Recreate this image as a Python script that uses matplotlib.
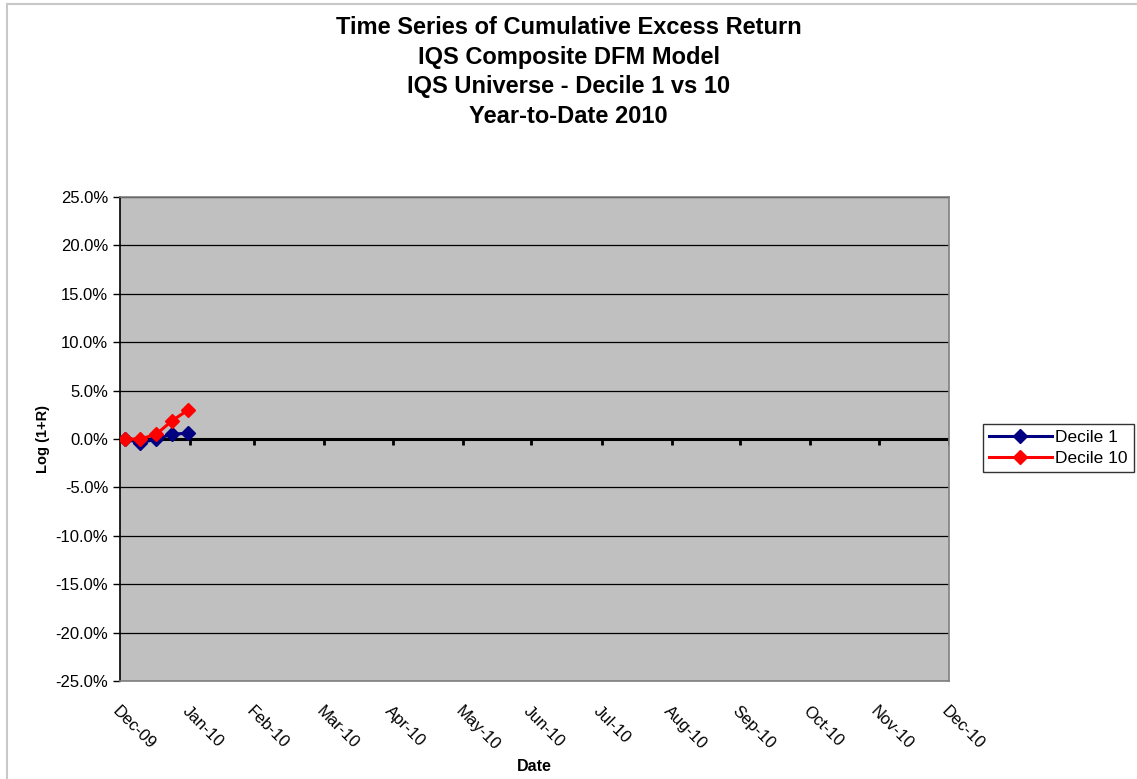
import numpy as np
import matplotlib
matplotlib.use("Agg")
import matplotlib.pyplot as plt
import matplotlib.dates as mdates
from matplotlib.ticker import FuncFormatter, MultipleLocator
from datetime import date
from matplotlib.patches import Rectangle

plt.rcParams['font.family'] = ['Liberation Sans', 'DejaVu Sans']

# weekly observations, cumulative log excess return (%)
dates = [date(2010, 1, 2), date(2010, 1, 9), date(2010, 1, 16),
         date(2010, 1, 23), date(2010, 1, 30)]
decile_1 = [0.0, -0.4, 0.0, 0.5, 0.6]
decile_10 = [0.0, 0.0, 0.5, 1.9, 3.0]

# month-end axis ticks
month_ends = [date(2009, 12, 31), date(2010, 1, 31), date(2010, 2, 28),
              date(2010, 3, 31), date(2010, 4, 30), date(2010, 5, 31),
              date(2010, 6, 30), date(2010, 7, 31), date(2010, 8, 31),
              date(2010, 9, 30), date(2010, 10, 31), date(2010, 11, 30),
              date(2010, 12, 31)]

fig = plt.figure(figsize=(11.37, 7.79), dpi=100)
ax = fig.add_axes([120 / 1137, 1 - 681 / 779, 829 / 1137, 484 / 779])
ax.set_facecolor('#C0C0C0')

x = mdates.date2num(dates)
xt = mdates.date2num(month_ends)

ax.plot(x, decile_1, color='#000080', lw=2.2, marker='D', ms=7.5, label='Decile 1', zorder=3)
ax.plot(x, decile_10, color='#FF0000', lw=2.2, marker='D', ms=7.5, label='Decile 10', zorder=4)

ax.set_xlim(xt[0], xt[-1])
ax.set_ylim(-25, 25)
ax.yaxis.set_major_locator(MultipleLocator(5))
ax.yaxis.set_major_formatter(FuncFormatter(lambda v, p: f'{v:.1f}%'))
ax.grid(axis='y', color='black', lw=0.9)
ax.axhline(0, color='black', lw=2.2, zorder=2)
# small tick marks along the zero line
for t in xt[1:]:
    ax.plot([t, t], [-0.6, 0], color='black', lw=2, zorder=2, solid_capstyle='butt')

ax.set_xticks(xt)
ax.set_xticklabels([d.strftime('%b-%y') for d in month_ends], rotation=-45,
                   ha='left', va='top', rotation_mode='anchor', fontsize=12)
ax.tick_params(axis='x', length=0, pad=16)
ax.tick_params(axis='y', length=5, width=1, labelsize=12, direction='out')
for s in ax.spines.values():
    s.set_color('#808080')
    s.set_linewidth(1.2)
ax.spines['left'].set_color('black')

ax.set_xlabel('Date', fontsize=11.5, fontweight='bold', labelpad=4)
ax.set_ylabel('Log (1+R)', fontsize=10.5, fontweight='bold', labelpad=4)

title_lines = ['Time Series of Cumulative Excess Return', 'IQS Composite DFM Model',
               'IQS Universe - Decile 1 vs 10', 'Year-to-Date 2010']
for i, line in enumerate(title_lines):
    fig.text(0.5, 1 - (28 + 29.5 * i) / 779, line, ha='center', va='center',
             fontsize=17, fontweight='bold')

leg = fig.legend(loc='center left', bbox_to_anchor=(983 / 1137, 1 - 448 / 779),
                 fontsize=12.5, frameon=True, fancybox=False, edgecolor='black',
                 handlelength=3.6, borderpad=0.35, labelspacing=0.35, handletextpad=0.2,
                 borderaxespad=0)
leg.get_frame().set_linewidth(1)

# chart area border
fig.patches.append(Rectangle((7 / 1137, -0.01), 1.02, 1 - 4 / 779 + 0.01,
                             transform=fig.transFigure, fill=False,
                             edgecolor='#C8C8C8', lw=1.5))

fig.savefig('out.png', dpi=100)
